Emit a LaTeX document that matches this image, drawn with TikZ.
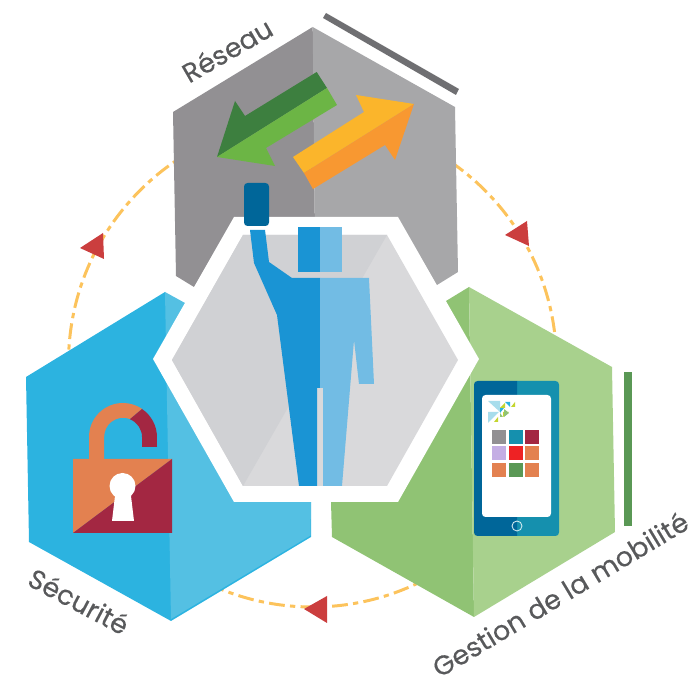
\documentclass[tikz,border=0pt]{standalone}
\usepackage{fontspec}
\setmainfont{Poppins}[FakeBold=0.3]
\definecolor{greyDark}{HTML}{929093}
\definecolor{greyLight}{HTML}{A7A7A9}
\definecolor{greyBar}{HTML}{6F6F72}
\definecolor{blueDark}{HTML}{2CB3E0}
\definecolor{blueLight}{HTML}{54C0E3}
\definecolor{greenDark}{HTML}{90C374}
\definecolor{greenLight}{HTML}{A8D18D}
\definecolor{greenBar}{HTML}{5A9855}
\definecolor{hexDark}{HTML}{D0D1D4}
\definecolor{hexLight}{HTML}{D9D9DB}
\definecolor{manDark}{HTML}{1A94D4}
\definecolor{manLight}{HTML}{72BCE4}
\definecolor{phoneDark}{HTML}{006699}
\definecolor{phoneLight}{HTML}{1590AE}
\definecolor{lockOrange}{HTML}{E38150}
\definecolor{lockRed}{HTML}{A32742}
\definecolor{tipRed}{HTML}{CB3E3E}
\definecolor{ringYellow}{HTML}{FCC35C}
\definecolor{labelGrey}{HTML}{58595B}
\definecolor{arrowGreenDark}{HTML}{3D7F3F}
\definecolor{arrowGreenLight}{HTML}{6CB545}
\definecolor{arrowYellow}{HTML}{FBB52B}
\definecolor{arrowOrange}{HTML}{F89831}
\definecolor{tileLilac}{HTML}{C4AEE4}
\definecolor{tileRed}{HTML}{EE2224}
\definecolor{logoPale}{HTML}{A8DDEC}
\definecolor{logoLime}{HTML}{C4D52F}
\tikzset{
  label/.style={text=labelGrey, font=\fontsize{15.3}{16}\selectfont, inner sep=0pt},
  ring/.style={ringYellow, line width=1.7pt, dash pattern=on 9pt off 3pt on 3pt off 3pt},
  tile/.style={minimum size=14*0.02cm, inner sep=0pt, anchor=north west}
}
\begin{document}
\begin{tikzpicture}[x=0.02cm, y=-0.02cm]
  \useasboundingbox (0,0) rectangle (691,675);
  \coordinate (ringC) at (312.5,363);
  \draw[ring] (ringC) circle (244);

  \coordinate (greyTop) at (312.7,27);
  \coordinate (greyFoot) at (315.7,300);
  \fill[greyDark] (greyTop) -- (173,112) -- (176,276) -- (194,287) -- (greyFoot) -- cycle;
  \fill[greyLight] (greyTop) -- (455,107) -- (458,272) -- (437,285) -- (greyFoot) -- cycle;
  \fill[greyBar] (326,13) -- (323,18) -- (456,95) -- (459,89) -- cycle;

  \coordinate (blueTop) at (165,292);
  \coordinate (blueBottom) at (171,621);
  \fill[blueDark] (blueTop) -- (26,377) -- (29,542) -- (blueBottom) -- (311,537) -- (311,502) -- (200,400) -- cycle;
  \fill[blueLight] (blueTop) -- (185,303) -- (200,400) -- (311,502) -- (310.5,535.5) -- (171,619) -- cycle;

  \coordinate (greenTop) at (469,287);
  \coordinate (greenBottom) at (474,617);
  \fill[greenDark] (greenTop) -- (446,301) -- (400,450) -- (331,502) -- (332,537) -- (greenBottom) -- cycle;
  \fill[greenLight] (greenTop) -- (612,367) -- (615,532) -- (greenBottom) -- cycle;
  \fill[greenBar] (624,372) rectangle (632,526);

  \fill[white] (234,217) -- (398,217) -- (479,359) -- (398,502) -- (234,502) -- (153,359) -- cycle;
  \fill[hexLight] (243,235) -- (387,235) -- (458,360) -- (387,486) -- (243,486) -- (172,360) -- cycle;
  \fill[hexDark] (243,235) -- (387,235) -- (243,486) -- (172,360) -- cycle;

  \fill[arrowGreenDark] (316.7,72) -- (327,88) -- (217,157) -- (235,101) -- (245,116) -- cycle;
  \fill[arrowGreenLight] (327,88) -- (337,105) -- (266,148) -- (275,166) -- (217,157) -- cycle;
  \fill[arrowYellow] (414,104) -- (356,95) -- (364,112) -- (293,157) -- (304,173) -- cycle;
  \fill[arrowOrange] (414,104) -- (304,173) -- (313,189) -- (385,145) -- (395,160) -- cycle;

  \fill[phoneDark, rounded corners=2pt] (244,183) rectangle (269,226);

  \fill[manDark] (298,227) rectangle (320,272);
  \fill[manLight] (320,227) rectangle (342,272);
  \fill[manDark] (250,230) -- (265,230) -- (269,262) -- (292,278) -- (320,278) -- (320,388) -- (317,388) -- (317,486) -- (299,486) -- (277,315) -- (254,263) -- cycle;
  \fill[manLight] (320,278) -- (369,278) -- (374,384) -- (359,384) -- (354,340) -- (342,486) -- (323,486) -- (323,388) -- (320,388) -- cycle;

  \fill[lockOrange] (73,459) -- (172,459) -- (73,533) -- cycle;
  \fill[lockRed] (172,459) -- (172,533) -- (73,533) -- cycle;
  \fill[lockOrange] (89,459) -- (89,437) arc (180:304:34) -- (130,419) arc (291:180:19) -- (104,459) -- cycle;
  \fill[lockRed] (142,409) arc (304:360:34) -- (157,447) -- (142,447) -- (142,437) arc (360:291:19) -- cycle;
  \fill[white] (122.5,486) circle (13);
  \fill[white] (115,496) -- (131,496) -- (134,521) -- (112,521) -- cycle;

  \fill[phoneLight, rounded corners=2pt] (517,381) -- (559,381) -- (559,536) -- (517,536);
  \fill[phoneDark, rounded corners=2pt] (517,381) -- (474,381) -- (474,536) -- (517,536);
  \fill[white, rounded corners=2pt] (482,395) rectangle (551,517);
  \draw[white!80!phoneLight, line width=0.5pt] (517,526) circle (5);
  \foreach \x/\y/\c in {492/430/greyDark, 509/430/phoneLight, 525/430/lockRed,
                        492/446/tileLilac, 509/446/tileRed, 525/446/lockOrange,
                        492/463/lockOrange, 509/463/greenBar, 525/463/lockOrange}
    \node[tile, fill=\c] (tile\x\y) at (\x,\y) {};
  \fill[logoPale] (488,401) -- (500,401) -- (500,412) -- cycle;
  \fill[logoPale] (488,412) -- (499,412) -- (488,423) -- cycle;
  \fill[blueDark] (505,402) -- (510,402) -- (510,407) -- cycle;
  \fill[blueDark] (500,408) -- (504,408) -- (500,413) -- cycle;
  \fill[logoLime] (511,407) -- (515,402) -- (515,407) -- cycle;
  \fill[logoLime] (500,408) -- (505,403) -- (505,408) -- cycle;
  \fill[logoLime] (494,422) -- (498,417) -- (498,422) -- cycle;
  \fill[logoLime] (503,417) -- (509,412) -- (503,412) -- cycle;
  \fill[greenDark] (504,409) -- (509,413) -- (504,417) -- cycle;
  \fill[greenDark] (500,413) -- (503,417) -- (500,417) -- cycle;

  \fill[tipRed] (80,248) -- (103,233) -- (104,259) -- cycle;
  \fill[tipRed] (505,235) -- (527,221) -- (529,246) -- cycle;
  \fill[tipRed] (304,609) -- (327,596) -- (327,623) -- cycle;

  \node[label, rotate=30] (reseau) at (227,50) {Réseau};
  \node[label, rotate=-28] (securite) at (79,601) {Sécurité};
  \node[label, rotate=31] (gestion) at (560,594) {Gestion de la mobilité};
\end{tikzpicture}
\end{document}
